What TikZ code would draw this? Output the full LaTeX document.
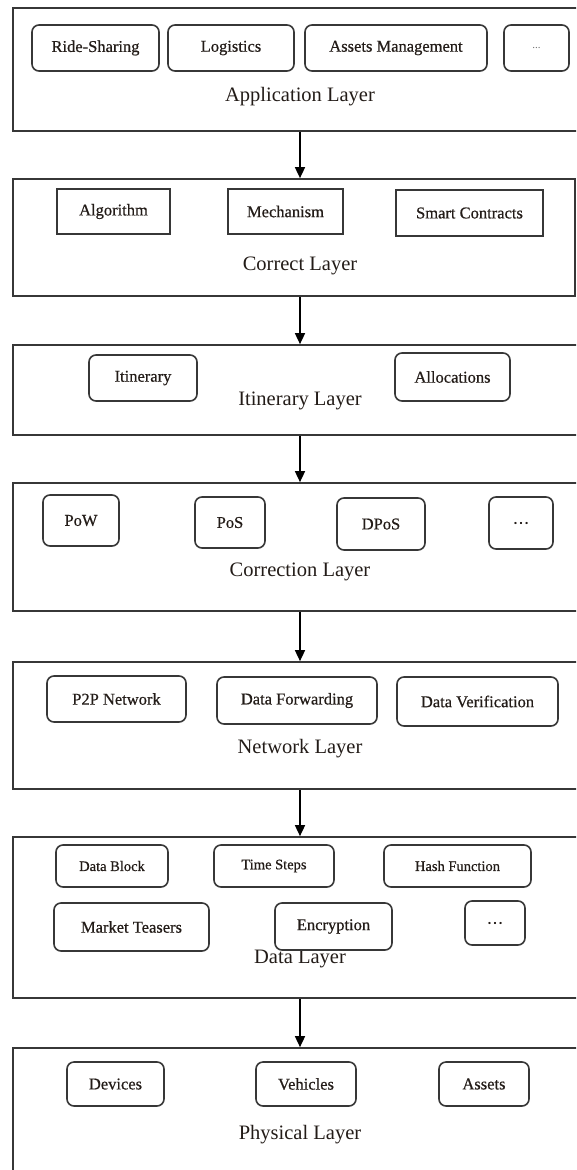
\documentclass[tikz,border=0pt]{standalone}
\usepackage{fontspec}
\setmainfont{Liberation Serif}
\newfontfamily\heavyserif[FakeBold=0.6]{Liberation Serif}
\usetikzlibrary{arrows.meta}
\definecolor{txt}{RGB}{35,28,24}
\definecolor{edge}{RGB}{55,55,55}
\newcommand\labfont{\fontsize{20.5}{24}\selectfont}
\newcommand\itemfont{\heavyserif\fontsize{16.5}{20}\selectfont}
\newcommand\smallitemfont{\heavyserif\fontsize{14.5}{18}\selectfont}
\newcommand\placebox[7]{\node[#1, minimum width={(#5-#4)*1pt}, minimum height={(#7-#6)*1pt}] (#2) at ({(#4+#5)/2},{(#6+#7)/2}) {#3};}
\tikzset{
  layerbox/.style={draw=edge, line width=1.7pt, inner sep=0pt},
  itembox/.style={draw=edge, line width=1.6pt, rounded corners=7pt, inner sep=0pt, font=\itemfont, text=txt},
  smallitem/.style={itembox, font=\smallitemfont},
  sqitem/.style={itembox, rounded corners=0pt},
  lbl/.style={font=\labfont, text=txt, inner sep=0pt},
  arr/.style={line width=1.6pt, -{Triangle[length=11pt,width=10pt]}}
}
\begin{document}
\begin{tikzpicture}[x=1pt,y=-1pt]
\useasboundingbox (0,0) rectangle (576,1170);
\clip (0,0) rectangle (576,1170);
% layers
\placebox{layerbox}{L1}{}{13}{582}{8}{131}
\placebox{layerbox}{L2}{}{13}{575}{179}{296}
\placebox{layerbox}{L3}{}{13}{582}{345}{435}
\placebox{layerbox}{L4}{}{13}{582}{483}{611}
\placebox{layerbox}{L5}{}{13}{582}{662}{789}
\placebox{layerbox}{L6}{}{13}{582}{837}{998}
\placebox{layerbox}{L7}{}{13}{582}{1048}{1190}
% labels
\node[lbl] (A1) at (300,97) {Application Layer};
\node[lbl] (A2) at (300,266) {Correct Layer};
\node[lbl] (A3) at (300,401) {Itinerary Layer};
\node[lbl] (A4) at (300,572) {Correction Layer};
\node[lbl] (A5) at (300,749) {Network Layer};
\node[lbl] (A6) at (300,959) {Data Layer};
\node[lbl] (A7) at (300,1135) {Physical Layer};
% application items
\placebox{itembox}{a1}{Ride-Sharing}{32}{159}{25}{71}
\placebox{itembox}{a2}{Logistics}{168}{294}{25}{71}
\placebox{itembox}{a3}{Assets Management}{305}{487}{25}{71}
\placebox{itembox, font=\fontsize{11}{13}\selectfont, text=black!55}{a4}{...}{504}{569}{25}{71}
% correct items
\placebox{sqitem}{b1}{Algorithm}{57}{170}{189}{234}
\placebox{sqitem}{b2}{Mechanism}{228}{343}{189}{234}
\placebox{sqitem}{b3}{Smart Contracts}{396}{543}{190}{236}
% itinerary items
\placebox{itembox}{c1}{Itinerary}{89}{197}{355}{401}
\placebox{itembox}{c2}{Allocations}{395}{510}{353}{401}
% correction items
\placebox{itembox}{d1}{PoW}{43}{119}{495}{546}
\placebox{itembox}{d2}{PoS}{195}{265}{497}{548}
\placebox{itembox}{d3}{DPoS}{337}{425}{498}{550}
\placebox{itembox}{d4}{\ldots}{489}{553}{497}{549}
% network items
\placebox{itembox}{e1}{P2P Network}{47}{186}{676}{722}
\placebox{itembox}{e2}{Data Forwarding}{217}{377}{677}{724}
\placebox{itembox}{e3}{Data Verification}{397}{558}{677}{726}
% data items
\placebox{smallitem}{f1}{Data Block}{56}{168}{845}{887}
\placebox{smallitem}{f2}{Time Steps}{214}{334}{845}{887}
\placebox{smallitem}{f3}{Hash Function}{384}{531}{845}{887}
\placebox{itembox}{f4}{Market Teasers}{54}{209}{903}{951}
\placebox{itembox}{f5}{Encryption}{275}{392}{903}{950}
\placebox{itembox}{f6}{\ldots}{465}{525}{901}{945}
% physical items
\placebox{itembox}{g1}{Devices}{67}{164}{1062}{1106}
\placebox{itembox}{g2}{Vehicles}{256}{356}{1062}{1106}
\placebox{itembox}{g3}{Assets}{439}{529}{1062}{1106}
% arrows
\draw[arr] (L1.south -| A1) -- (L2.north -| A1);
\draw[arr] (L2.south -| A2) -- (L3.north -| A2);
\draw[arr] (L3.south -| A3) -- (L4.north -| A3);
\draw[arr] (L4.south -| A4) -- (L5.north -| A4);
\draw[arr] (L5.south -| A5) -- (L6.north -| A5);
\draw[arr] (L6.south -| A6) -- (L7.north -| A6);
\end{tikzpicture}
\end{document}
